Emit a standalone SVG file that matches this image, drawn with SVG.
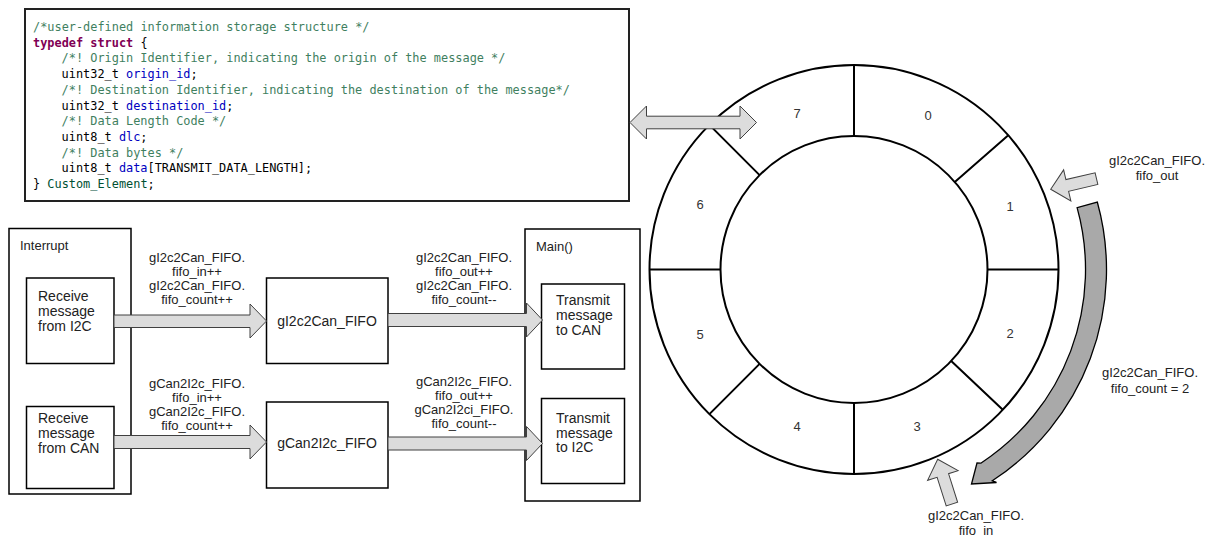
<svg xmlns="http://www.w3.org/2000/svg" width="1209" height="536" viewBox="0 0 1209 536">
  <style>
    .box { fill: #ffffff; stroke: #000000; stroke-width: 1.5; }
    .code { font-family: "DejaVu Sans Mono", "Liberation Mono", monospace; font-size: 11.9px; fill: #000000; }
    .cm { fill: #3f7f5f; }
    .kw { fill: #7f0055; font-weight: bold; }
    .fd { fill: #0000c0; }
    .ty { fill: #005032; }
    .lbl { font-family: "Liberation Sans", Arial, sans-serif; font-size: 13px; fill: #222222; }
    .mid { text-anchor: middle; }
    .btxt { font-family: "Liberation Sans", Arial, sans-serif; font-size: 14px; fill: #222222; }
    .num { font-family: "Liberation Sans", Arial, sans-serif; font-size: 13px; fill: #333333; text-anchor: middle; }
    .ring { fill: none; stroke: #000000; stroke-width: 2; }
    .blk { fill: #dcdcdc; stroke: #404040; stroke-width: 1; stroke-linejoin: miter; }
    .cnt { fill: #a9a9a9; stroke: #000000; stroke-width: 1.3; }
  </style>
  <defs>
    <!-- block arrow pointing along +x, tip at the origin -->
    <path id="ptr" d="M0,0 L-17,-16 V-6 H-47 V6 H-17 V16 Z"/>
  </defs>

  <rect width="1209" height="536" fill="#ffffff"/>

  <!-- struct definition -->
  <g id="code">
    <rect x="25" y="9" width="604" height="192" fill="#ffffff" stroke="#222222" stroke-width="2"/>
    <text class="code" x="33" y="31"><tspan class="cm">/*user-defined information storage structure */</tspan></text>
    <text class="code" x="33" y="46.7"><tspan class="kw">typedef</tspan> <tspan class="kw">struct</tspan> {</text>
    <text class="code" x="61.6" y="62.4"><tspan class="cm">/*! Origin Identifier, indicating the origin of the message */</tspan></text>
    <text class="code" x="61.6" y="78.1">uint32_t <tspan class="fd">origin_id</tspan>;</text>
    <text class="code" x="61.6" y="93.9"><tspan class="cm">/*! Destination Identifier, indicating the destination of the message*/</tspan></text>
    <text class="code" x="61.6" y="109.6">uint32_t <tspan class="fd">destination_id</tspan>;</text>
    <text class="code" x="61.6" y="125.3"><tspan class="cm">/*! Data Length Code */</tspan></text>
    <text class="code" x="61.6" y="141">uint8_t <tspan class="fd">dlc</tspan>;</text>
    <text class="code" x="61.6" y="156.7"><tspan class="cm">/*! Data bytes */</tspan></text>
    <text class="code" x="61.6" y="172.4">uint8_t <tspan class="fd">data</tspan>[TRANSMIT_DATA_LENGTH];</text>
    <text class="code" x="33" y="188.1">} <tspan class="ty">Custom_Element</tspan>;</text>
  </g>

  <!-- interrupt context -->
  <g id="interrupt">
    <rect class="box" x="9" y="228.5" width="122" height="265.5"/>
    <text class="lbl" x="20" y="249.5">Interrupt</text>
  </g>
  <g id="rx-i2c">
    <rect class="box" x="26.5" y="278" width="87.5" height="85.5"/>
    <text class="btxt" x="38" y="300.5">Receive</text>
    <text class="btxt" x="38" y="315.5">message</text>
    <text class="btxt" x="38" y="330.5">from I2C</text>
  </g>
  <g id="rx-can">
    <rect class="box" x="26.5" y="406.5" width="87.5" height="82"/>
    <text class="btxt" x="38" y="423">Receive</text>
    <text class="btxt" x="38" y="438">message</text>
    <text class="btxt" x="38" y="453">from CAN</text>
  </g>

  <!-- FIFO buffers -->
  <g id="fifo-i2c2can">
    <rect class="box" x="266.5" y="278" width="121.5" height="85.5"/>
    <text class="btxt mid" x="327" y="326">gI2c2Can_FIFO</text>
  </g>
  <g id="fifo-can2i2c">
    <rect class="box" x="266.5" y="402" width="121.5" height="86"/>
    <text class="btxt mid" x="327" y="448">gCan2I2c_FIFO</text>
  </g>

  <!-- main loop context -->
  <g id="main">
    <rect class="box" x="525" y="229" width="115" height="272"/>
    <text class="lbl" x="536" y="251">Main()</text>
  </g>
  <g id="tx-can">
    <rect class="box" x="541.5" y="284" width="83" height="85"/>
    <text class="btxt" x="556" y="305">Transmit</text>
    <text class="btxt" x="556" y="320">message</text>
    <text class="btxt" x="556" y="335">to CAN</text>
  </g>
  <g id="tx-i2c">
    <rect class="box" x="541.5" y="398.5" width="83" height="85"/>
    <text class="btxt" x="556" y="423">Transmit</text>
    <text class="btxt" x="556" y="437.5">message</text>
    <text class="btxt" x="556" y="452">to I2C</text>
  </g>

  <!-- ring buffer -->
  <g id="ring">
    <circle cx="854" cy="269.5" r="204.5" fill="#ffffff" stroke="#000" stroke-width="2"/>
    <circle class="ring" cx="854" cy="269.5" r="133.5"/>
    <path class="ring" d="M987.5,269.5 H1058.5 M951.2,361.1 L1002.8,409.7 M854,403 V474 M759.6,363.9 L709.4,414.1 M720.5,269.5 H649.5 M759.6,175.1 L709.4,124.9 M854,136 V65 M954.8,181.9 L1008.3,135.3"/>
    <text class="num" x="928" y="119.5">0</text>
    <text class="num" x="1010" y="211">1</text>
    <text class="num" x="1010" y="338">2</text>
    <text class="num" x="917" y="431">3</text>
    <text class="num" x="797" y="431">4</text>
    <text class="num" x="700" y="339">5</text>
    <text class="num" x="700" y="209">6</text>
    <text class="num" x="797" y="118">7</text>
  </g>

  <!-- connectors -->
  <g id="connectors">
    <path class="blk" d="M114,315 H250 V304 L266.5,321 L250,338 V327.5 H114 Z"/>
    <path class="blk" d="M114,435.5 H250 V425 L266.5,442 L250,459 V448.5 H114 Z"/>
    <path class="blk" d="M388,313.5 H526.5 V303 L542.5,320 L526.5,337 V326.5 H388 Z"/>
    <path class="blk" d="M388,437 H526.5 V426.5 L542.5,443.5 L526.5,460.5 V450 H388 Z"/>
    <path class="blk" d="M630,122.5 L646.5,106 V116.2 H740 V106 L756.5,122.5 L740,139 V128.8 H646.5 V139 Z"/>
    <use href="#ptr" class="blk" transform="translate(1050.7,189.3) rotate(166.9)"/>
    <use href="#ptr" class="blk" transform="translate(937.7,459.3) rotate(-107.6)"/>
    <path class="cnt" d="M1097.3,202 A252.5,252.5 0 0 1 992.3,480.8 L996.5,482.5 L971.5,484 L977,463 L980.8,463.2 A231.5,231.5 0 0 0 1077.1,207.6 Z"/>
  </g>

  <!-- counter labels -->
  <g id="labels">
    <text class="lbl mid" x="197" y="261.5">gI2c2Can_FIFO.</text>
    <text class="lbl mid" x="197" y="275.5">fifo_in++</text>
    <text class="lbl mid" x="197" y="289.5">gI2c2Can_FIFO.</text>
    <text class="lbl mid" x="197" y="303.5">fifo_count++</text>
    <text class="lbl mid" x="197" y="387.5">gCan2I2c_FIFO.</text>
    <text class="lbl mid" x="197" y="401.5">fifo_in++</text>
    <text class="lbl mid" x="197" y="415.5">gCan2I2c_FIFO.</text>
    <text class="lbl mid" x="197" y="429.5">fifo_count++</text>
    <text class="lbl mid" x="464" y="261.5">gI2c2Can_FIFO.</text>
    <text class="lbl mid" x="464" y="275.5">fifo_out++</text>
    <text class="lbl mid" x="464" y="289.5">gI2c2Can_FIFO.</text>
    <text class="lbl mid" x="464" y="303.5">fifo_count--</text>
    <text class="lbl mid" x="464" y="385.5">gCan2I2c_FIFO.</text>
    <text class="lbl mid" x="464" y="399.5">fifo_out++</text>
    <text class="lbl mid" x="464" y="413.5">gCan2I2ci_FIFO.</text>
    <text class="lbl mid" x="464" y="427.5">fifo_count--</text>
    <text class="lbl mid" x="1157" y="165">gI2c2Can_FIFO.</text>
    <text class="lbl mid" x="1157" y="180">fifo_out</text>
    <text class="lbl mid" x="1150" y="377">gI2c2Can_FIFO.</text>
    <text class="lbl mid" x="1150" y="392.5">fifo_count = 2</text>
    <text class="lbl mid" x="976" y="519.5">gI2c2Can_FIFO.</text>
    <text class="lbl mid" x="976" y="534.5">fifo_in</text>
  </g>
</svg>
